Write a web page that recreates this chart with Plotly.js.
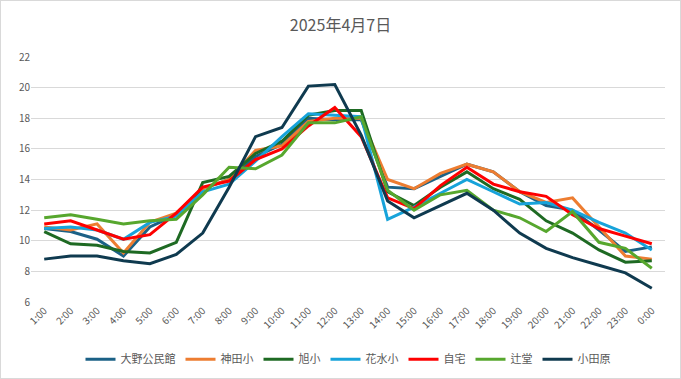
<!DOCTYPE html>
<html>
<head>
<meta charset="utf-8">
<script src="https://cdn.plot.ly/plotly-3.0.1.min.js"></script>
<style>
html,body{margin:0;padding:0;background:#fff;}
#wrap{width:681px;height:379px;box-sizing:border-box;border:1px solid #d9d9d9;}
#chart{width:679px;height:377px;}
</style>
</head>
<body>
<div id="wrap"><div id="chart"></div></div>
<script>
const hours = ["1:00","2:00","3:00","4:00","5:00","6:00","7:00","8:00","9:00","10:00","11:00","12:00","13:00","14:00","15:00","16:00","17:00","18:00","19:00","20:00","21:00","22:00","23:00","0:00"];
const seriesNames = ["大野公民館","神田小","旭小","花水小","自宅","辻堂","小田原"];
const ohno     = [10.8,10.6,10.1,9.0,10.9,11.7,13.4,14.0,15.5,16.3,18.0,17.9,17.9,13.5,13.4,14.2,15.0,14.5,13.2,12.3,12.0,10.7,9.3,9.6];
const kanda    = [10.9,10.7,11.1,9.2,11.2,11.8,13.4,14.0,15.9,16.2,17.8,18.0,18.0,14.0,13.4,14.4,15.0,14.5,13.2,12.5,12.8,10.9,9.0,8.8];
const asahi    = [10.6,9.8,9.7,9.3,9.2,9.9,13.8,14.2,15.7,16.5,18.2,18.5,18.5,13.2,12.3,13.5,14.5,13.4,12.7,11.3,10.5,9.4,8.6,8.7];
const hanamizu = [10.8,10.9,10.7,10.1,11.2,11.6,13.2,13.7,15.2,16.8,18.3,18.2,18.1,11.4,12.2,13.1,14.0,13.2,12.4,12.5,12.0,11.2,10.5,9.4];
const home     = [11.1,11.3,10.7,10.1,10.4,11.8,13.5,13.9,15.3,16.0,17.5,18.7,16.8,12.8,12.1,13.6,14.8,13.7,13.2,12.9,11.7,10.8,10.3,9.8];
const tsujido  = [11.5,11.7,11.4,11.1,11.3,11.4,13.0,14.8,14.7,15.6,17.7,17.7,18.1,13.3,12.0,13.0,13.3,12.0,11.5,10.6,11.9,9.9,9.5,8.2];
const odawara  = [8.8,9.0,9.0,8.7,8.5,9.1,10.5,13.5,16.8,17.4,20.1,20.2,16.9,12.6,11.5,12.3,13.1,12.0,10.5,9.5,8.9,8.4,7.9,6.9];
const yTicks = [6,8,10,12,14,16,18,20,22];

const values = [ohno,kanda,asahi,hanamizu,home,tsujido,odawara];
const colors = ["#1b6186","#ed7d31","#1e6a23","#17a3da","#fe0000","#57a72e","#0f3a4f"];
const font = '"Noto Sans CJK JP", "Noto Sans", sans-serif';

const traces = values.map((v,i)=>({
  type:'scatter', mode:'lines', name:seriesNames[i], x:hours, y:v,
  line:{color:colors[i], width:3}
}));

const layout = {
  width:679, height:377,
  margin:{l:30,r:15,t:56,b:76},
  paper_bgcolor:'#fff', plot_bgcolor:'#fff',
  font:{family:font, color:'#595959', size:11},
  title:{text:'2025年4月7日', x:0.5, xanchor:'center', y:0.935, yanchor:'middle', font:{family:font, size:16, color:'#595959'}},
  xaxis:{type:'category', range:[-0.5, hours.length-0.5], automargin:false, tickangle:-45, tickfont:{size:10, color:'#595959'}, showgrid:false, zeroline:false, showline:false, ticks:'', fixedrange:true},
  yaxis:{range:[6,22], automargin:false, tickvals:yTicks, ticktext:yTicks.map(String), showgrid:true, gridcolor:'#d9d9d9', gridwidth:1, zeroline:false, showline:false, ticks:'', tickfont:{size:10, color:'#595959'}},
  showlegend:true,
  legend:{orientation:'h', x:0.5, xanchor:'center', yref:'container', y:0.05, yanchor:'middle', font:{size:11, color:'#595959'}, itemwidth:30, traceorder:'normal'}
};
Plotly.newPlot('chart', traces, layout, {displayModeBar:false, staticPlot:true});
</script>
</body>
</html>
